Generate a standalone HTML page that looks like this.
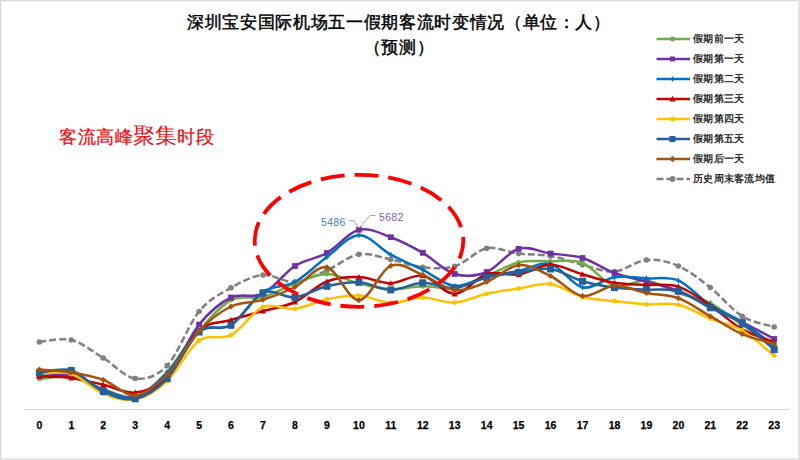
<!DOCTYPE html>
<html><head><meta charset="utf-8"><style>
html,body{margin:0;padding:0;background:#fff;}
body{width:800px;height:460px;overflow:hidden;position:relative;font-family:"Liberation Sans",sans-serif;}
.frame{position:absolute;left:0;top:0;width:797px;height:457px;border:1px solid #D9D9D9;border-right:2px solid #E4E4E4;border-bottom:2px solid #E8E8E8;box-shadow:inset 1px 1px 0 #F0F0F0;}
.title{position:absolute;left:0;width:798px;text-align:center;font-weight:400;font-size:17px;letter-spacing:0.65px;-webkit-text-stroke:0.45px #000;color:#000;line-height:20px;}
.anno{position:absolute;left:59px;top:124px;color:#E8141C;font-size:18px;letter-spacing:0.5px;-webkit-text-stroke:0.3px #E8141C;white-space:nowrap;line-height:24px;}
.anno .big{font-size:22px;-webkit-text-stroke:0;letter-spacing:0.2px;}
svg{position:absolute;left:0;top:0;}
svg text{font-family:"Liberation Sans",sans-serif;}
</style></head><body>
<div class="frame"></div>
<div class="title" style="top:13px">深圳宝安国际机场五一假期客流时变情况（单位：人）</div>
<div class="title" style="top:38px">（预测）</div>
<div class="anno">客流高峰<span class="big">聚集</span>时段</div>
<svg width="800" height="460" viewBox="0 0 800 460">
<line x1="24" y1="409.5" x2="790" y2="409.5" stroke="#D9D9D9" stroke-width="1"/>
<path d="M39.4,342.0 C44.7,341.7 60.6,337.3 71.3,340.0 C82.0,342.7 92.6,351.6 103.2,358.0 C113.9,364.4 124.5,377.2 135.2,378.5 C145.8,379.8 156.5,376.8 167.2,365.6 C177.8,354.4 188.4,324.5 199.1,311.5 C209.8,298.5 220.4,293.9 231.0,287.8 C241.7,281.7 252.3,276.0 263.0,275.0 C273.6,274.0 284.3,282.8 294.9,282.0 C305.6,281.2 316.2,275.0 326.9,270.4 C337.6,265.8 348.2,256.1 358.9,254.3 C369.5,252.5 380.2,257.4 390.8,259.5 C401.4,261.6 412.1,266.1 422.8,267.2 C433.4,268.3 444.0,269.4 454.7,266.3 C465.4,263.2 476.0,250.4 486.7,248.3 C497.3,246.2 508.0,252.3 518.6,253.6 C529.2,254.9 539.9,254.1 550.5,256.0 C561.2,257.9 571.9,262.2 582.5,264.8 C593.1,267.4 603.8,272.3 614.5,271.5 C625.1,270.7 635.8,260.9 646.4,260.0 C657.0,259.1 667.7,261.4 678.4,266.0 C689.0,270.6 699.6,279.1 710.3,287.5 C720.9,295.9 731.6,309.6 742.2,316.2 C752.9,322.8 768.9,325.2 774.2,327.0" fill="none" stroke="#808080" stroke-width="2.5" stroke-dasharray="7,3"/>
<circle cx="39.4" cy="342.0" r="2.8" fill="#808080"/>
<circle cx="71.3" cy="340.0" r="2.8" fill="#808080"/>
<circle cx="103.2" cy="358.0" r="2.8" fill="#808080"/>
<circle cx="135.2" cy="378.5" r="2.8" fill="#808080"/>
<circle cx="167.2" cy="365.6" r="2.8" fill="#808080"/>
<circle cx="199.1" cy="311.5" r="2.8" fill="#808080"/>
<circle cx="231.0" cy="287.8" r="2.8" fill="#808080"/>
<circle cx="263.0" cy="275.0" r="2.8" fill="#808080"/>
<circle cx="294.9" cy="282.0" r="2.8" fill="#808080"/>
<circle cx="326.9" cy="270.4" r="2.8" fill="#808080"/>
<circle cx="358.9" cy="254.3" r="2.8" fill="#808080"/>
<circle cx="390.8" cy="259.5" r="2.8" fill="#808080"/>
<circle cx="422.8" cy="267.2" r="2.8" fill="#808080"/>
<circle cx="454.7" cy="266.3" r="2.8" fill="#808080"/>
<circle cx="486.7" cy="248.3" r="2.8" fill="#808080"/>
<circle cx="518.6" cy="253.6" r="2.8" fill="#808080"/>
<circle cx="550.5" cy="256.0" r="2.8" fill="#808080"/>
<circle cx="582.5" cy="264.8" r="2.8" fill="#808080"/>
<circle cx="614.5" cy="271.5" r="2.8" fill="#808080"/>
<circle cx="646.4" cy="260.0" r="2.8" fill="#808080"/>
<circle cx="678.4" cy="266.0" r="2.8" fill="#808080"/>
<circle cx="710.3" cy="287.5" r="2.8" fill="#808080"/>
<circle cx="742.2" cy="316.2" r="2.8" fill="#808080"/>
<circle cx="774.2" cy="327.0" r="2.8" fill="#808080"/>
<path d="M39.4,378.9 C44.7,378.6 60.6,375.3 71.3,377.0 C82.0,378.7 92.6,385.7 103.2,389.0 C113.9,392.3 124.5,399.0 135.2,397.0 C145.8,395.0 156.5,388.0 167.2,377.0 C177.8,366.0 188.4,343.8 199.1,331.0 C209.8,318.2 220.4,305.8 231.0,300.1 C241.7,294.4 252.3,299.8 263.0,297.0 C273.6,294.2 284.3,287.4 294.9,283.6 C305.6,279.8 316.2,274.0 326.9,274.0 C337.6,274.0 348.2,281.0 358.9,283.5 C369.5,286.0 380.2,288.7 390.8,289.2 C401.4,289.7 412.1,286.5 422.8,286.3 C433.4,286.1 444.0,289.7 454.7,288.0 C465.4,286.3 476.0,280.3 486.7,276.0 C497.3,271.7 508.0,264.8 518.6,262.3 C529.2,259.9 539.9,261.2 550.5,261.3 C561.2,261.4 571.9,258.9 582.5,263.0 C593.1,267.1 603.8,283.1 614.5,286.0 C625.1,288.9 635.8,279.3 646.4,280.5 C657.0,281.7 667.7,289.2 678.4,293.0 C689.0,296.8 699.6,297.7 710.3,303.0 C720.9,308.3 731.6,318.0 742.2,325.0 C752.9,332.0 768.9,341.7 774.2,345.0" fill="none" stroke="#70AD47" stroke-width="2.5"/>
<circle cx="39.4" cy="378.9" r="2.4" fill="#70AD47"/>
<circle cx="71.3" cy="377.0" r="2.4" fill="#70AD47"/>
<circle cx="103.2" cy="389.0" r="2.4" fill="#70AD47"/>
<circle cx="135.2" cy="397.0" r="2.4" fill="#70AD47"/>
<circle cx="167.2" cy="377.0" r="2.4" fill="#70AD47"/>
<circle cx="199.1" cy="331.0" r="2.4" fill="#70AD47"/>
<circle cx="231.0" cy="300.1" r="2.4" fill="#70AD47"/>
<circle cx="263.0" cy="297.0" r="2.4" fill="#70AD47"/>
<circle cx="294.9" cy="283.6" r="2.4" fill="#70AD47"/>
<circle cx="326.9" cy="274.0" r="2.4" fill="#70AD47"/>
<circle cx="358.9" cy="283.5" r="2.4" fill="#70AD47"/>
<circle cx="390.8" cy="289.2" r="2.4" fill="#70AD47"/>
<circle cx="422.8" cy="286.3" r="2.4" fill="#70AD47"/>
<circle cx="454.7" cy="288.0" r="2.4" fill="#70AD47"/>
<circle cx="486.7" cy="276.0" r="2.4" fill="#70AD47"/>
<circle cx="518.6" cy="262.3" r="2.4" fill="#70AD47"/>
<circle cx="550.5" cy="261.3" r="2.4" fill="#70AD47"/>
<circle cx="582.5" cy="263.0" r="2.4" fill="#70AD47"/>
<circle cx="614.5" cy="286.0" r="2.4" fill="#70AD47"/>
<circle cx="646.4" cy="280.5" r="2.4" fill="#70AD47"/>
<circle cx="678.4" cy="293.0" r="2.4" fill="#70AD47"/>
<circle cx="710.3" cy="303.0" r="2.4" fill="#70AD47"/>
<circle cx="742.2" cy="325.0" r="2.4" fill="#70AD47"/>
<circle cx="774.2" cy="345.0" r="2.4" fill="#70AD47"/>
<path d="M39.4,376.0 C44.7,376.0 60.6,373.7 71.3,376.0 C82.0,378.3 92.6,386.5 103.2,390.0 C113.9,393.5 124.5,399.2 135.2,397.0 C145.8,394.8 156.5,389.1 167.2,377.0 C177.8,364.9 188.4,337.9 199.1,324.6 C209.8,311.4 220.4,302.6 231.0,297.5 C241.7,292.4 252.3,298.9 263.0,293.7 C273.6,288.4 284.3,272.8 294.9,266.0 C305.6,259.2 316.2,259.0 326.9,253.0 C337.6,247.0 348.2,232.4 358.9,229.8 C369.5,227.2 380.2,233.4 390.8,237.2 C401.4,241.0 412.1,246.7 422.8,252.8 C433.4,258.9 444.0,270.8 454.7,274.0 C465.4,277.2 476.0,276.2 486.7,272.0 C497.3,267.8 508.0,251.9 518.6,248.8 C529.2,245.7 539.9,252.0 550.5,253.5 C561.2,255.0 571.9,254.8 582.5,258.0 C593.1,261.2 603.8,269.1 614.5,273.0 C625.1,276.9 635.8,278.7 646.4,281.7 C657.0,284.7 667.7,286.8 678.4,291.0 C689.0,295.2 699.6,301.8 710.3,307.0 C720.9,312.2 731.6,316.7 742.2,322.0 C752.9,327.3 768.9,336.2 774.2,339.0" fill="none" stroke="#7030A0" stroke-width="2.5"/>
<rect x="36.5" y="373.1" width="5.8" height="5.8" fill="#7030A0"/>
<rect x="68.4" y="373.1" width="5.8" height="5.8" fill="#7030A0"/>
<rect x="100.3" y="387.1" width="5.8" height="5.8" fill="#7030A0"/>
<rect x="132.3" y="394.1" width="5.8" height="5.8" fill="#7030A0"/>
<rect x="164.2" y="374.1" width="5.8" height="5.8" fill="#7030A0"/>
<rect x="196.2" y="321.7" width="5.8" height="5.8" fill="#7030A0"/>
<rect x="228.1" y="294.6" width="5.8" height="5.8" fill="#7030A0"/>
<rect x="260.1" y="290.8" width="5.8" height="5.8" fill="#7030A0"/>
<rect x="292.1" y="263.1" width="5.8" height="5.8" fill="#7030A0"/>
<rect x="324.0" y="250.1" width="5.8" height="5.8" fill="#7030A0"/>
<rect x="356.0" y="226.9" width="5.8" height="5.8" fill="#7030A0"/>
<rect x="387.9" y="234.3" width="5.8" height="5.8" fill="#7030A0"/>
<rect x="419.9" y="249.9" width="5.8" height="5.8" fill="#7030A0"/>
<rect x="451.8" y="271.1" width="5.8" height="5.8" fill="#7030A0"/>
<rect x="483.8" y="269.1" width="5.8" height="5.8" fill="#7030A0"/>
<rect x="515.7" y="245.9" width="5.8" height="5.8" fill="#7030A0"/>
<rect x="547.6" y="250.6" width="5.8" height="5.8" fill="#7030A0"/>
<rect x="579.6" y="255.1" width="5.8" height="5.8" fill="#7030A0"/>
<rect x="611.6" y="270.1" width="5.8" height="5.8" fill="#7030A0"/>
<rect x="643.5" y="278.8" width="5.8" height="5.8" fill="#7030A0"/>
<rect x="675.5" y="288.1" width="5.8" height="5.8" fill="#7030A0"/>
<rect x="707.4" y="304.1" width="5.8" height="5.8" fill="#7030A0"/>
<rect x="739.4" y="319.1" width="5.8" height="5.8" fill="#7030A0"/>
<rect x="771.3" y="336.1" width="5.8" height="5.8" fill="#7030A0"/>
<path d="M39.4,374.0 C44.7,373.8 60.6,370.3 71.3,373.0 C82.0,375.7 92.6,386.0 103.2,390.0 C113.9,394.0 124.5,400.0 135.2,397.0 C145.8,394.0 156.5,383.0 167.2,372.0 C177.8,361.0 188.4,338.8 199.1,331.0 C209.8,323.2 220.4,331.5 231.0,325.0 C241.7,318.5 252.3,299.2 263.0,292.0 C273.6,284.8 284.3,287.8 294.9,282.0 C305.6,276.2 316.2,264.8 326.9,257.0 C337.6,249.2 348.2,235.6 358.9,235.2 C369.5,234.8 380.2,248.9 390.8,254.7 C401.4,260.5 412.1,264.6 422.8,269.8 C433.4,275.0 444.0,284.9 454.7,286.0 C465.4,287.1 476.0,279.0 486.7,276.5 C497.3,274.0 508.0,273.1 518.6,271.0 C529.2,268.9 539.9,261.3 550.5,264.0 C561.2,266.7 571.9,285.2 582.5,287.4 C593.1,289.6 603.8,278.7 614.5,277.2 C625.1,275.7 635.8,277.7 646.4,278.3 C657.0,278.9 667.7,276.2 678.4,280.6 C689.0,285.1 699.6,298.1 710.3,305.0 C720.9,311.9 731.6,315.2 742.2,322.0 C752.9,328.8 768.9,342.0 774.2,346.0" fill="none" stroke="#0070C0" stroke-width="2.5"/>
<path d="M36.9,374.0 h5.0 M39.4,371.5 v5.0" stroke="#0070C0" stroke-width="1.5"/>
<path d="M68.8,373.0 h5.0 M71.3,370.5 v5.0" stroke="#0070C0" stroke-width="1.5"/>
<path d="M100.8,390.0 h5.0 M103.2,387.5 v5.0" stroke="#0070C0" stroke-width="1.5"/>
<path d="M132.7,397.0 h5.0 M135.2,394.5 v5.0" stroke="#0070C0" stroke-width="1.5"/>
<path d="M164.7,372.0 h5.0 M167.2,369.5 v5.0" stroke="#0070C0" stroke-width="1.5"/>
<path d="M196.6,331.0 h5.0 M199.1,328.5 v5.0" stroke="#0070C0" stroke-width="1.5"/>
<path d="M228.5,325.0 h5.0 M231.0,322.5 v5.0" stroke="#0070C0" stroke-width="1.5"/>
<path d="M260.5,292.0 h5.0 M263.0,289.5 v5.0" stroke="#0070C0" stroke-width="1.5"/>
<path d="M292.4,282.0 h5.0 M294.9,279.5 v5.0" stroke="#0070C0" stroke-width="1.5"/>
<path d="M324.4,257.0 h5.0 M326.9,254.5 v5.0" stroke="#0070C0" stroke-width="1.5"/>
<path d="M356.4,235.2 h5.0 M358.9,232.7 v5.0" stroke="#0070C0" stroke-width="1.5"/>
<path d="M388.3,254.7 h5.0 M390.8,252.2 v5.0" stroke="#0070C0" stroke-width="1.5"/>
<path d="M420.2,269.8 h5.0 M422.8,267.3 v5.0" stroke="#0070C0" stroke-width="1.5"/>
<path d="M452.2,286.0 h5.0 M454.7,283.5 v5.0" stroke="#0070C0" stroke-width="1.5"/>
<path d="M484.2,276.5 h5.0 M486.7,274.0 v5.0" stroke="#0070C0" stroke-width="1.5"/>
<path d="M516.1,271.0 h5.0 M518.6,268.5 v5.0" stroke="#0070C0" stroke-width="1.5"/>
<path d="M548.0,264.0 h5.0 M550.5,261.5 v5.0" stroke="#0070C0" stroke-width="1.5"/>
<path d="M580.0,287.4 h5.0 M582.5,284.9 v5.0" stroke="#0070C0" stroke-width="1.5"/>
<path d="M612.0,277.2 h5.0 M614.5,274.7 v5.0" stroke="#0070C0" stroke-width="1.5"/>
<path d="M643.9,278.3 h5.0 M646.4,275.8 v5.0" stroke="#0070C0" stroke-width="1.5"/>
<path d="M675.9,280.6 h5.0 M678.4,278.1 v5.0" stroke="#0070C0" stroke-width="1.5"/>
<path d="M707.8,305.0 h5.0 M710.3,302.5 v5.0" stroke="#0070C0" stroke-width="1.5"/>
<path d="M739.8,322.0 h5.0 M742.2,319.5 v5.0" stroke="#0070C0" stroke-width="1.5"/>
<path d="M771.7,346.0 h5.0 M774.2,343.5 v5.0" stroke="#0070C0" stroke-width="1.5"/>
<path d="M39.4,376.3 C44.7,376.6 60.6,376.6 71.3,378.0 C82.0,379.4 92.6,382.3 103.2,384.7 C113.9,387.1 124.5,393.7 135.2,392.6 C145.8,391.5 156.5,388.4 167.2,378.0 C177.8,367.6 188.4,340.2 199.1,330.5 C209.8,320.8 220.4,323.2 231.0,320.0 C241.7,316.8 252.3,314.0 263.0,311.0 C273.6,308.0 284.3,306.9 294.9,302.0 C305.6,297.1 316.2,285.7 326.9,281.5 C337.6,277.3 348.2,276.7 358.9,277.0 C369.5,277.3 380.2,283.4 390.8,283.2 C401.4,283.0 412.1,274.0 422.8,275.8 C433.4,277.6 444.0,294.3 454.7,294.0 C465.4,293.7 476.0,277.2 486.7,274.0 C497.3,270.8 508.0,276.0 518.6,274.5 C529.2,273.0 539.9,264.8 550.5,264.8 C561.2,264.8 571.9,271.3 582.5,274.3 C593.1,277.3 603.8,281.0 614.5,282.8 C625.1,284.6 635.8,284.3 646.4,284.9 C657.0,285.5 667.7,283.2 678.4,286.6 C689.0,290.0 699.6,298.3 710.3,305.4 C720.9,312.5 731.6,323.2 742.2,329.3 C752.9,335.4 768.9,339.9 774.2,342.0" fill="none" stroke="#C00000" stroke-width="2.5"/>
<path d="M39.4,373.3 L42.4,378.7 L36.4,378.7 Z" fill="#C00000"/>
<path d="M71.3,375.0 L74.3,380.4 L68.3,380.4 Z" fill="#C00000"/>
<path d="M103.2,381.7 L106.2,387.1 L100.2,387.1 Z" fill="#C00000"/>
<path d="M135.2,389.6 L138.2,395.0 L132.2,395.0 Z" fill="#C00000"/>
<path d="M167.2,375.0 L170.2,380.4 L164.2,380.4 Z" fill="#C00000"/>
<path d="M199.1,327.5 L202.1,332.9 L196.1,332.9 Z" fill="#C00000"/>
<path d="M231.0,317.0 L234.0,322.4 L228.0,322.4 Z" fill="#C00000"/>
<path d="M263.0,308.0 L266.0,313.4 L260.0,313.4 Z" fill="#C00000"/>
<path d="M294.9,299.0 L297.9,304.4 L291.9,304.4 Z" fill="#C00000"/>
<path d="M326.9,278.5 L329.9,283.9 L323.9,283.9 Z" fill="#C00000"/>
<path d="M358.9,274.0 L361.9,279.4 L355.9,279.4 Z" fill="#C00000"/>
<path d="M390.8,280.2 L393.8,285.6 L387.8,285.6 Z" fill="#C00000"/>
<path d="M422.8,272.8 L425.8,278.2 L419.8,278.2 Z" fill="#C00000"/>
<path d="M454.7,291.0 L457.7,296.4 L451.7,296.4 Z" fill="#C00000"/>
<path d="M486.7,271.0 L489.7,276.4 L483.7,276.4 Z" fill="#C00000"/>
<path d="M518.6,271.5 L521.6,276.9 L515.6,276.9 Z" fill="#C00000"/>
<path d="M550.5,261.8 L553.5,267.2 L547.5,267.2 Z" fill="#C00000"/>
<path d="M582.5,271.3 L585.5,276.7 L579.5,276.7 Z" fill="#C00000"/>
<path d="M614.5,279.8 L617.5,285.2 L611.5,285.2 Z" fill="#C00000"/>
<path d="M646.4,281.9 L649.4,287.3 L643.4,287.3 Z" fill="#C00000"/>
<path d="M678.4,283.6 L681.4,289.0 L675.4,289.0 Z" fill="#C00000"/>
<path d="M710.3,302.4 L713.3,307.8 L707.3,307.8 Z" fill="#C00000"/>
<path d="M742.2,326.3 L745.2,331.7 L739.2,331.7 Z" fill="#C00000"/>
<path d="M774.2,339.0 L777.2,344.4 L771.2,344.4 Z" fill="#C00000"/>
<path d="M39.4,373.7 C44.7,373.8 60.6,370.7 71.3,374.0 C82.0,377.3 92.6,389.2 103.2,393.5 C113.9,397.8 124.5,401.6 135.2,399.5 C145.8,397.4 156.5,390.8 167.2,381.0 C177.8,371.2 188.4,348.1 199.1,340.5 C209.8,332.9 220.4,340.8 231.0,335.2 C241.7,329.6 252.3,311.4 263.0,307.0 C273.6,302.6 284.3,310.1 294.9,308.8 C305.6,307.5 316.2,301.5 326.9,299.3 C337.6,297.1 348.2,295.0 358.9,295.6 C369.5,296.2 380.2,302.4 390.8,302.7 C401.4,303.0 412.1,297.6 422.8,297.6 C433.4,297.6 444.0,303.2 454.7,302.6 C465.4,302.0 476.0,296.1 486.7,293.8 C497.3,291.5 508.0,290.2 518.6,288.6 C529.2,287.0 539.9,282.6 550.5,284.0 C561.2,285.4 571.9,294.2 582.5,297.0 C593.1,299.8 603.8,299.8 614.5,301.0 C625.1,302.2 635.8,303.7 646.4,304.3 C657.0,304.9 667.7,302.4 678.4,304.8 C689.0,307.2 699.6,314.3 710.3,318.6 C720.9,322.9 731.6,324.3 742.2,330.5 C752.9,336.7 768.9,351.4 774.2,355.6" fill="none" stroke="#FFC000" stroke-width="2.5"/>
<circle cx="39.4" cy="373.7" r="2.4" fill="#FFC000"/>
<circle cx="71.3" cy="374.0" r="2.4" fill="#FFC000"/>
<circle cx="103.2" cy="393.5" r="2.4" fill="#FFC000"/>
<circle cx="135.2" cy="399.5" r="2.4" fill="#FFC000"/>
<circle cx="167.2" cy="381.0" r="2.4" fill="#FFC000"/>
<circle cx="199.1" cy="340.5" r="2.4" fill="#FFC000"/>
<circle cx="231.0" cy="335.2" r="2.4" fill="#FFC000"/>
<circle cx="263.0" cy="307.0" r="2.4" fill="#FFC000"/>
<circle cx="294.9" cy="308.8" r="2.4" fill="#FFC000"/>
<circle cx="326.9" cy="299.3" r="2.4" fill="#FFC000"/>
<circle cx="358.9" cy="295.6" r="2.4" fill="#FFC000"/>
<circle cx="390.8" cy="302.7" r="2.4" fill="#FFC000"/>
<circle cx="422.8" cy="297.6" r="2.4" fill="#FFC000"/>
<circle cx="454.7" cy="302.6" r="2.4" fill="#FFC000"/>
<circle cx="486.7" cy="293.8" r="2.4" fill="#FFC000"/>
<circle cx="518.6" cy="288.6" r="2.4" fill="#FFC000"/>
<circle cx="550.5" cy="284.0" r="2.4" fill="#FFC000"/>
<circle cx="582.5" cy="297.0" r="2.4" fill="#FFC000"/>
<circle cx="614.5" cy="301.0" r="2.4" fill="#FFC000"/>
<circle cx="646.4" cy="304.3" r="2.4" fill="#FFC000"/>
<circle cx="678.4" cy="304.8" r="2.4" fill="#FFC000"/>
<circle cx="710.3" cy="318.6" r="2.4" fill="#FFC000"/>
<circle cx="742.2" cy="330.5" r="2.4" fill="#FFC000"/>
<circle cx="774.2" cy="355.6" r="2.4" fill="#FFC000"/>
<path d="M39.4,372.8 C44.7,372.4 60.6,367.4 71.3,370.5 C82.0,373.6 92.6,386.8 103.2,391.5 C113.9,396.2 124.5,400.9 135.2,398.8 C145.8,396.7 156.5,389.7 167.2,378.6 C177.8,367.5 188.4,340.9 199.1,332.0 C209.8,323.1 220.4,331.8 231.0,325.3 C241.7,318.8 252.3,297.5 263.0,292.8 C273.6,288.1 284.3,298.4 294.9,297.3 C305.6,296.2 316.2,288.8 326.9,286.3 C337.6,283.8 348.2,281.7 358.9,282.3 C369.5,282.9 380.2,289.8 390.8,289.9 C401.4,290.0 412.1,283.1 422.8,282.8 C433.4,282.5 444.0,288.9 454.7,288.0 C465.4,287.1 476.0,280.1 486.7,277.5 C497.3,274.9 508.0,273.9 518.6,272.5 C529.2,271.1 539.9,267.5 550.5,269.0 C561.2,270.5 571.9,278.2 582.5,281.3 C593.1,284.4 603.8,286.2 614.5,287.6 C625.1,289.0 635.8,289.0 646.4,289.6 C657.0,290.2 667.7,288.2 678.4,291.2 C689.0,294.2 699.6,302.4 710.3,307.8 C720.9,313.2 731.6,316.4 742.2,323.4 C752.9,330.4 768.9,345.2 774.2,349.6" fill="none" stroke="#255E99" stroke-width="2.5"/>
<rect x="35.9" y="369.3" width="7.0" height="7.0" fill="#255E99"/>
<rect x="67.8" y="367.0" width="7.0" height="7.0" fill="#255E99"/>
<rect x="99.8" y="388.0" width="7.0" height="7.0" fill="#255E99"/>
<rect x="131.7" y="395.3" width="7.0" height="7.0" fill="#255E99"/>
<rect x="163.7" y="375.1" width="7.0" height="7.0" fill="#255E99"/>
<rect x="195.6" y="328.5" width="7.0" height="7.0" fill="#255E99"/>
<rect x="227.5" y="321.8" width="7.0" height="7.0" fill="#255E99"/>
<rect x="259.5" y="289.3" width="7.0" height="7.0" fill="#255E99"/>
<rect x="291.4" y="293.8" width="7.0" height="7.0" fill="#255E99"/>
<rect x="323.4" y="282.8" width="7.0" height="7.0" fill="#255E99"/>
<rect x="355.4" y="278.8" width="7.0" height="7.0" fill="#255E99"/>
<rect x="387.3" y="286.4" width="7.0" height="7.0" fill="#255E99"/>
<rect x="419.2" y="279.3" width="7.0" height="7.0" fill="#255E99"/>
<rect x="451.2" y="284.5" width="7.0" height="7.0" fill="#255E99"/>
<rect x="483.2" y="274.0" width="7.0" height="7.0" fill="#255E99"/>
<rect x="515.1" y="269.0" width="7.0" height="7.0" fill="#255E99"/>
<rect x="547.0" y="265.5" width="7.0" height="7.0" fill="#255E99"/>
<rect x="579.0" y="277.8" width="7.0" height="7.0" fill="#255E99"/>
<rect x="611.0" y="284.1" width="7.0" height="7.0" fill="#255E99"/>
<rect x="642.9" y="286.1" width="7.0" height="7.0" fill="#255E99"/>
<rect x="674.9" y="287.7" width="7.0" height="7.0" fill="#255E99"/>
<rect x="706.8" y="304.3" width="7.0" height="7.0" fill="#255E99"/>
<rect x="738.8" y="319.9" width="7.0" height="7.0" fill="#255E99"/>
<rect x="770.7" y="346.1" width="7.0" height="7.0" fill="#255E99"/>
<path d="M39.4,369.5 C44.7,370.0 60.6,370.7 71.3,372.4 C82.0,374.1 92.6,375.9 103.2,379.7 C113.9,383.5 124.5,396.2 135.2,395.4 C145.8,394.5 156.5,385.3 167.2,374.6 C177.8,363.9 188.4,342.4 199.1,331.0 C209.8,319.6 220.4,311.7 231.0,306.5 C241.7,301.3 252.3,303.1 263.0,299.8 C273.6,296.6 284.3,292.4 294.9,287.0 C305.6,281.6 316.2,265.1 326.9,267.3 C337.6,269.5 348.2,300.5 358.9,300.2 C369.5,299.9 380.2,269.9 390.8,265.7 C401.4,261.5 412.1,270.8 422.8,274.8 C433.4,278.9 444.0,288.8 454.7,290.0 C465.4,291.2 476.0,286.1 486.7,282.0 C497.3,277.9 508.0,266.2 518.6,265.2 C529.2,264.2 539.9,270.9 550.5,276.0 C561.2,281.1 571.9,294.4 582.5,296.0 C593.1,297.6 603.8,286.3 614.5,285.8 C625.1,285.3 635.8,290.9 646.4,293.0 C657.0,295.1 667.7,294.3 678.4,298.2 C689.0,302.1 699.6,310.2 710.3,316.2 C720.9,322.2 731.6,329.5 742.2,334.1 C752.9,338.7 768.9,342.1 774.2,343.7" fill="none" stroke="#A5520F" stroke-width="2.5"/>
<path d="M39.4,366.5 L42.4,369.5 L39.4,372.5 L36.4,369.5 Z" fill="#A5520F"/>
<path d="M71.3,369.4 L74.3,372.4 L71.3,375.4 L68.3,372.4 Z" fill="#A5520F"/>
<path d="M103.2,376.7 L106.2,379.7 L103.2,382.7 L100.2,379.7 Z" fill="#A5520F"/>
<path d="M135.2,392.4 L138.2,395.4 L135.2,398.4 L132.2,395.4 Z" fill="#A5520F"/>
<path d="M167.2,371.6 L170.2,374.6 L167.2,377.6 L164.2,374.6 Z" fill="#A5520F"/>
<path d="M199.1,328.0 L202.1,331.0 L199.1,334.0 L196.1,331.0 Z" fill="#A5520F"/>
<path d="M231.0,303.5 L234.0,306.5 L231.0,309.5 L228.0,306.5 Z" fill="#A5520F"/>
<path d="M263.0,296.8 L266.0,299.8 L263.0,302.8 L260.0,299.8 Z" fill="#A5520F"/>
<path d="M294.9,284.0 L297.9,287.0 L294.9,290.0 L291.9,287.0 Z" fill="#A5520F"/>
<path d="M326.9,264.3 L329.9,267.3 L326.9,270.3 L323.9,267.3 Z" fill="#A5520F"/>
<path d="M358.9,297.2 L361.9,300.2 L358.9,303.2 L355.9,300.2 Z" fill="#A5520F"/>
<path d="M390.8,262.7 L393.8,265.7 L390.8,268.7 L387.8,265.7 Z" fill="#A5520F"/>
<path d="M422.8,271.8 L425.8,274.8 L422.8,277.8 L419.8,274.8 Z" fill="#A5520F"/>
<path d="M454.7,287.0 L457.7,290.0 L454.7,293.0 L451.7,290.0 Z" fill="#A5520F"/>
<path d="M486.7,279.0 L489.7,282.0 L486.7,285.0 L483.7,282.0 Z" fill="#A5520F"/>
<path d="M518.6,262.2 L521.6,265.2 L518.6,268.2 L515.6,265.2 Z" fill="#A5520F"/>
<path d="M550.5,273.0 L553.5,276.0 L550.5,279.0 L547.5,276.0 Z" fill="#A5520F"/>
<path d="M582.5,293.0 L585.5,296.0 L582.5,299.0 L579.5,296.0 Z" fill="#A5520F"/>
<path d="M614.5,282.8 L617.5,285.8 L614.5,288.8 L611.5,285.8 Z" fill="#A5520F"/>
<path d="M646.4,290.0 L649.4,293.0 L646.4,296.0 L643.4,293.0 Z" fill="#A5520F"/>
<path d="M678.4,295.2 L681.4,298.2 L678.4,301.2 L675.4,298.2 Z" fill="#A5520F"/>
<path d="M710.3,313.2 L713.3,316.2 L710.3,319.2 L707.3,316.2 Z" fill="#A5520F"/>
<path d="M742.2,331.1 L745.2,334.1 L742.2,337.1 L739.2,334.1 Z" fill="#A5520F"/>
<path d="M774.2,340.7 L777.2,343.7 L774.2,346.7 L771.2,343.7 Z" fill="#A5520F"/>
<ellipse cx="359" cy="240.8" rx="104.3" ry="66" fill="none" stroke="#FF0000" stroke-width="3.8" stroke-dasharray="24,9.93" stroke-dashoffset="5.8"/>
<path d="M349,220.5 H354 L358.5,228" fill="none" stroke="#A6A6A6" stroke-width="1"/>
<path d="M375.5,215.5 H370 L359.5,227.5" fill="none" stroke="#A6A6A6" stroke-width="1"/>
<text x="321" y="226" font-size="10.5" letter-spacing="0.3" fill="#3F7FC0" >5486</text>
<text x="379" y="221" font-size="10.5" letter-spacing="0.3" fill="#7F5FA8" >5682</text>
<text x="39.4" y="428.6" font-size="10.5" font-weight="bold" stroke="#000" stroke-width="0.25" fill="#000" text-anchor="middle" >0</text>
<text x="71.3" y="428.6" font-size="10.5" font-weight="bold" stroke="#000" stroke-width="0.25" fill="#000" text-anchor="middle" >1</text>
<text x="103.2" y="428.6" font-size="10.5" font-weight="bold" stroke="#000" stroke-width="0.25" fill="#000" text-anchor="middle" >2</text>
<text x="135.2" y="428.6" font-size="10.5" font-weight="bold" stroke="#000" stroke-width="0.25" fill="#000" text-anchor="middle" >3</text>
<text x="167.2" y="428.6" font-size="10.5" font-weight="bold" stroke="#000" stroke-width="0.25" fill="#000" text-anchor="middle" >4</text>
<text x="199.1" y="428.6" font-size="10.5" font-weight="bold" stroke="#000" stroke-width="0.25" fill="#000" text-anchor="middle" >5</text>
<text x="231.0" y="428.6" font-size="10.5" font-weight="bold" stroke="#000" stroke-width="0.25" fill="#000" text-anchor="middle" >6</text>
<text x="263.0" y="428.6" font-size="10.5" font-weight="bold" stroke="#000" stroke-width="0.25" fill="#000" text-anchor="middle" >7</text>
<text x="294.9" y="428.6" font-size="10.5" font-weight="bold" stroke="#000" stroke-width="0.25" fill="#000" text-anchor="middle" >8</text>
<text x="326.9" y="428.6" font-size="10.5" font-weight="bold" stroke="#000" stroke-width="0.25" fill="#000" text-anchor="middle" >9</text>
<text x="358.9" y="428.6" font-size="10.5" font-weight="bold" stroke="#000" stroke-width="0.25" fill="#000" text-anchor="middle" >10</text>
<text x="390.8" y="428.6" font-size="10.5" font-weight="bold" stroke="#000" stroke-width="0.25" fill="#000" text-anchor="middle" >11</text>
<text x="422.8" y="428.6" font-size="10.5" font-weight="bold" stroke="#000" stroke-width="0.25" fill="#000" text-anchor="middle" >12</text>
<text x="454.7" y="428.6" font-size="10.5" font-weight="bold" stroke="#000" stroke-width="0.25" fill="#000" text-anchor="middle" >13</text>
<text x="486.7" y="428.6" font-size="10.5" font-weight="bold" stroke="#000" stroke-width="0.25" fill="#000" text-anchor="middle" >14</text>
<text x="518.6" y="428.6" font-size="10.5" font-weight="bold" stroke="#000" stroke-width="0.25" fill="#000" text-anchor="middle" >15</text>
<text x="550.5" y="428.6" font-size="10.5" font-weight="bold" stroke="#000" stroke-width="0.25" fill="#000" text-anchor="middle" >16</text>
<text x="582.5" y="428.6" font-size="10.5" font-weight="bold" stroke="#000" stroke-width="0.25" fill="#000" text-anchor="middle" >17</text>
<text x="614.5" y="428.6" font-size="10.5" font-weight="bold" stroke="#000" stroke-width="0.25" fill="#000" text-anchor="middle" >18</text>
<text x="646.4" y="428.6" font-size="10.5" font-weight="bold" stroke="#000" stroke-width="0.25" fill="#000" text-anchor="middle" >19</text>
<text x="678.4" y="428.6" font-size="10.5" font-weight="bold" stroke="#000" stroke-width="0.25" fill="#000" text-anchor="middle" >20</text>
<text x="710.3" y="428.6" font-size="10.5" font-weight="bold" stroke="#000" stroke-width="0.25" fill="#000" text-anchor="middle" >21</text>
<text x="742.2" y="428.6" font-size="10.5" font-weight="bold" stroke="#000" stroke-width="0.25" fill="#000" text-anchor="middle" >22</text>
<text x="774.2" y="428.6" font-size="10.5" font-weight="bold" stroke="#000" stroke-width="0.25" fill="#000" text-anchor="middle" >23</text>
<line x1="656.5" y1="39.0" x2="690" y2="39.0" stroke="#70AD47" stroke-width="2.5"/>
<circle cx="672.5" cy="39.0" r="2.5" fill="#70AD47"/>
<text x="693" y="42.2" font-size="10" font-weight="600" letter-spacing="0.25" fill="#2A2A2A" >假期前一天</text>
<line x1="656.5" y1="59.0" x2="690" y2="59.0" stroke="#7030A0" stroke-width="2.5"/>
<rect x="670.0" y="56.5" width="4.9" height="4.9" fill="#7030A0"/>
<text x="693" y="62.1" font-size="10" font-weight="600" letter-spacing="0.25" fill="#2A2A2A" >假期第一天</text>
<line x1="656.5" y1="79.0" x2="690" y2="79.0" stroke="#0070C0" stroke-width="2.5"/>
<path d="M669.9,79.0 h5.2 M672.5,76.4 v5.2" stroke="#0070C0" stroke-width="1.5"/>
<text x="693" y="82.0" font-size="10" font-weight="600" letter-spacing="0.25" fill="#2A2A2A" >假期第二天</text>
<line x1="656.5" y1="99.0" x2="690" y2="99.0" stroke="#C00000" stroke-width="2.5"/>
<path d="M672.5,95.8 L675.6,101.5 L669.4,101.5 Z" fill="#C00000"/>
<text x="693" y="101.9" font-size="10" font-weight="600" letter-spacing="0.25" fill="#2A2A2A" >假期第三天</text>
<line x1="656.5" y1="119.0" x2="690" y2="119.0" stroke="#FFC000" stroke-width="2.5"/>
<circle cx="672.5" cy="119.0" r="2.5" fill="#FFC000"/>
<text x="693" y="121.8" font-size="10" font-weight="600" letter-spacing="0.25" fill="#2A2A2A" >假期第四天</text>
<line x1="656.5" y1="139.0" x2="690" y2="139.0" stroke="#255E99" stroke-width="2.5"/>
<rect x="669.5" y="136.0" width="6.0" height="6.0" fill="#255E99"/>
<text x="693" y="141.7" font-size="10" font-weight="600" letter-spacing="0.25" fill="#2A2A2A" >假期第五天</text>
<line x1="656.5" y1="159.0" x2="690" y2="159.0" stroke="#A5520F" stroke-width="2.5"/>
<path d="M672.5,155.8 L675.6,159.0 L672.5,162.2 L669.4,159.0 Z" fill="#A5520F"/>
<text x="693" y="161.6" font-size="10" font-weight="600" letter-spacing="0.25" fill="#2A2A2A" >假期后一天</text>
<line x1="656.5" y1="179.0" x2="690" y2="179.0" stroke="#808080" stroke-width="2.5" stroke-dasharray="7,3"/>
<circle cx="672.5" cy="179.0" r="2.9" fill="#808080"/>
<text x="693" y="181.5" font-size="10" font-weight="600" letter-spacing="0.25" fill="#2A2A2A" >历史周末客流均值</text>
</svg>
</body></html>
